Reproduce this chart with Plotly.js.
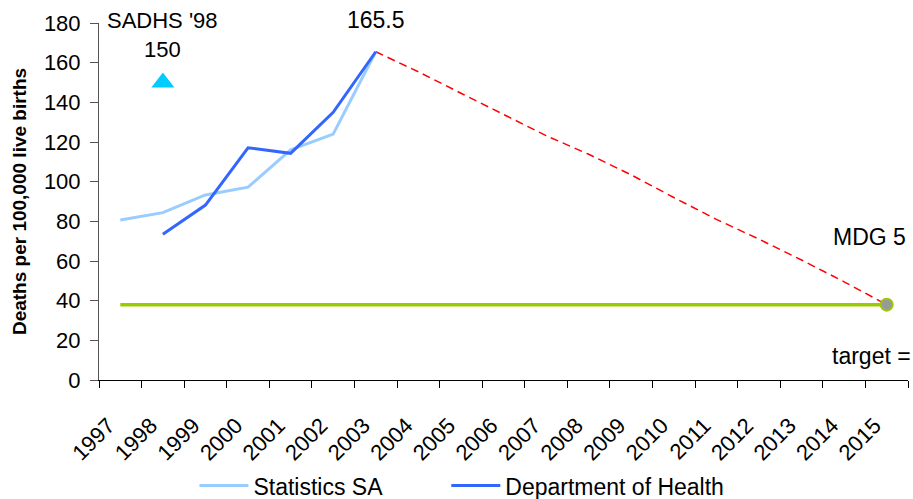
<!DOCTYPE html>
<html>
<head>
<meta charset="utf-8">
<script src="https://cdn.plot.ly/plotly-3.0.1.min.js"></script>
<style>html,body{margin:0;padding:0;background:#fff;}#chart{width:913px;height:499px;}</style>
</head>
<body>
<div id="chart"></div>
<script>
var years = ["1997","1998","1999","2000","2001","2002","2003","2004","2005","2006","2007","2008","2009","2010","2011","2012","2013","2014","2015"];
var statsSAYears = ["1997","1998","1999","2000","2001","2002","2003"];
var statsSA = [80.7, 84.4, 93.3, 97.2, 116, 124, 165.5];
var dohYears = ["1998","1999","2000","2001","2002","2003"];
var doh = [73.5, 88.2, 117.1, 114.3, 135, 165.5];
var projYears = ["2003","2004","2005","2006","2007","2008","2009","2010","2011","2012","2013","2014","2015"];
var projection = [165.5, 155.4, 144.6, 134, 123.2, 113.8, 103.4, 92, 81, 71, 60.5, 49.5, 38];
var targetYears = years;
var targetValue = 38;
var target = targetYears.map(function(){ return targetValue; });
var sadhsYear = ["1998"];
var sadhs = [150];
var mdgYear = ["2015"];
var mdg = [38];
var annotationTexts = ["SADHS '98", "150", "165.5", "MDG 5", "target ="];

var fontFam = '"Liberation Sans", Arial, sans-serif';
function idx(y){ return years.indexOf(y); }

var traces = [
  {x: targetYears, y: target, mode: 'lines', line: {color: '#99CC00', width: 3.5}, showlegend: false, hoverinfo: 'skip'},
  {x: projYears, y: projection, mode: 'lines', line: {color: '#FF0000', width: 1.5, dash: '8px,5px'}, showlegend: false},
  {x: statsSAYears, y: statsSA, mode: 'lines', name: 'Statistics SA', legend: 'legend', line: {color: '#99CCFF', width: 3}},
  {x: dohYears, y: doh, mode: 'lines', name: 'Department of Health', legend: 'legend2', line: {color: '#3366FF', width: 3}},
  {x: sadhsYear, y: sadhs, mode: 'markers', showlegend: false, marker: {symbol: 'triangle-up', size: 20, color: '#00CCFF'}},
  {x: mdgYear, y: mdg, mode: 'markers', showlegend: false, marker: {symbol: 'circle', size: 12, color: '#999999', line: {color: '#99CC00', width: 2}}}
];

var legendCommon = {orientation: 'h', xanchor: 'left', y: -0.296, yanchor: 'middle',
           font: {size: 23, family: fontFam}, itemwidth: 49, bgcolor: 'rgba(0,0,0,0)'};

var layout = {
  width: 913, height: 499,
  margin: {l: 99, r: 4.5, t: 23, b: 119, autoexpand: false},
  paper_bgcolor: '#fff', plot_bgcolor: '#fff',
  font: {family: fontFam, color: '#000', size: 22},
  showlegend: true,
  legend: Object.assign({}, legendCommon, {x: 0.118}),
  legend2: Object.assign({}, legendCommon, {x: 0.4293}),
  xaxis: {type: 'category', categoryorder: 'array', categoryarray: years, range: [-0.5, 18.5], automargin: false,
          tickson: 'boundaries', ticks: 'outside', ticklen: 7, tickcolor: '#000', tickwidth: 1,
          showline: true, linecolor: '#000', linewidth: 1, showgrid: false, zeroline: false,
          tickangle: -45, tickfont: {size: 22, family: fontFam}, ticklabelshift: -12, ticklabelstandoff: 23},
  yaxis: {range: [0, 180], dtick: 20, tick0: 0, ticks: 'outside', ticklen: 8, tickcolor: '#555', tickwidth: 1, automargin: false,
          showline: true, linecolor: '#555', linewidth: 1, showgrid: false, zeroline: false,
          tickfont: {size: 22, family: fontFam}, ticklabelstandoff: 5,
          title: {text: 'Deaths per 100,000 live births', font: {size: 19, family: fontFam, weight: 'bold'}, standoff: 12}},
  annotations: [
    {xref: 'x', yref: 'paper', x: idx('1998'), y: 1.0, yanchor: 'middle', yshift: 3, text: annotationTexts[0], showarrow: false, font: {size: 22}},
    {xref: 'x', yref: 'y', x: idx('1998'), y: 150, yanchor: 'middle', yshift: 33, text: annotationTexts[1], showarrow: false, font: {size: 22}},
    {xref: 'x', yref: 'paper', x: idx('2003'), y: 1.0, yanchor: 'middle', yshift: 3, text: annotationTexts[2], showarrow: false, font: {size: 23}},
    {xref: 'paper', yref: 'y', x: 1.0, xanchor: 'right', y: 72, yanchor: 'middle', text: annotationTexts[3], showarrow: false, font: {size: 23}},
    {xref: 'paper', yref: 'y', x: 1.0, xanchor: 'right', xshift: 5, y: 12, yanchor: 'middle', text: annotationTexts[4], showarrow: false, font: {size: 23}}
  ]
};

Plotly.newPlot('chart', traces, layout, {displayModeBar: false, staticPlot: true});
</script>
</body>
</html>
